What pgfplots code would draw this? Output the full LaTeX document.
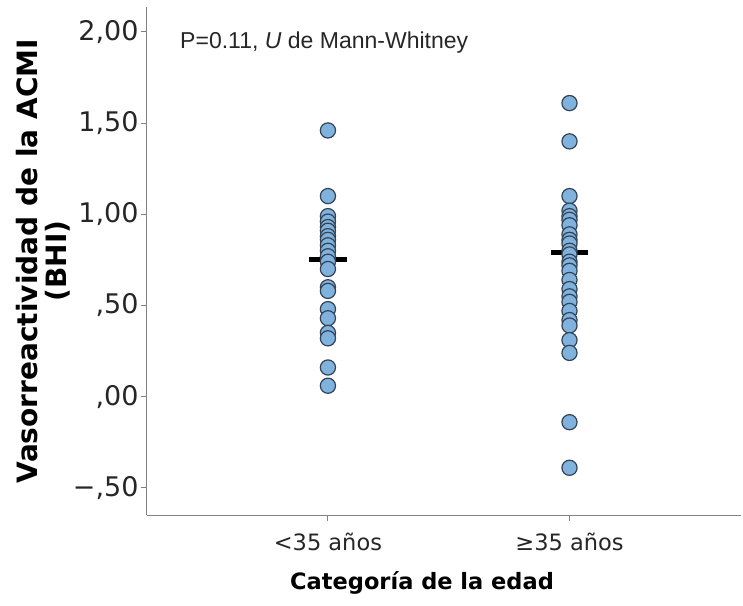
\documentclass[border=0pt]{standalone}
\usepackage{pgfplots}
\pgfplotsset{compat=1.18}
\usepackage{fontspec}
\setmainfont{DejaVu Sans}
\newfontfamily\annfont{Liberation Sans}

\definecolor{dotfill}{RGB}{128,178,222}
\definecolor{dotedge}{RGB}{52,66,84}
\definecolor{axisgray}{RGB}{130,130,130}

% BHI values by age group (0: <35 years, 1: >=35 years)
\pgfplotstableread{
x y
0 1.46
0 1.10
0 0.99
0 0.96
0 0.93
0 0.91
0 0.88
0 0.86
0 0.83
0 0.80
0 0.77
0 0.74
0 0.70
0 0.60
0 0.58
0 0.48
0 0.43
0 0.35
0 0.32
0 0.16
0 0.06
}\younger

\pgfplotstableread{
x y
1 1.61
1 1.40
1 1.10
1 1.02
1 0.99
1 0.97
1 0.94
1 0.89
1 0.86
1 0.84
1 0.80
1 0.78
1 0.74
1 0.72
1 0.69
1 0.64
1 0.59
1 0.55
1 0.52
1 0.47
1 0.42
1 0.39
1 0.31
1 0.24
1 -0.14
1 -0.39
}\older

\begin{document}
\begin{tikzpicture}
\begin{axis}[
  name=ax,
  scale only axis,
  width=594pt, height=508pt,
  xmin=-0.749, xmax=1.71,
  ymin=-0.649, ymax=2.137,
  axis x line*=bottom, axis y line*=left,
  axis line style={axisgray, line width=1pt, -},
  xtick={0,1},
  xticklabels={<35 años, ≥35 años},
  ytick={-0.5,0,0.5,1,1.5,2},
  yticklabels={{−,50},{,00},{,50},{1,00},{1,50},{2,00}},
  tick align=outside,
  major tick length=6pt,
  tick style={axisgray, line width=1pt},
  x tick label style={font=\fontsize{22.5}{26}\selectfont, text=black!85, yshift=-8pt},
  y tick label style={font=\fontsize{27}{30}\selectfont, text=black!85, xshift=1pt},
  xlabel={Categoría de la edad},
  xlabel style={font=\bfseries\fontsize{22.5}{27}\selectfont, at={(rel axis cs:0.463,0)}, anchor=center, yshift=-68pt},
  ylabel={Vasorreactividad de la ACMI\\(BHI)},
  ylabel style={font=\bfseries\fontsize{28}{29}\selectfont, align=center, yshift=-4pt},
  clip=false,
]
\addplot[only marks, mark=*, mark size=7.6pt,
  mark options={fill=dotfill, draw=dotedge, line width=1.2pt}]
  table[x=x, y=y] {\younger};
\addplot[only marks, mark=*, mark size=7.6pt,
  mark options={fill=dotfill, draw=dotedge, line width=1.2pt}]
  table[x=x, y=y] {\older};
% group means
\addplot[black, line width=5pt] coordinates {(-0.077,0.75) (0.077,0.75)};
\addplot[black, line width=5pt] coordinates {(0.923,0.79) (1.077,0.79)};
\node[anchor=west, font=\annfont\fontsize{23}{26}\selectfont, text=black!85]
  at (rel axis cs:0.050,0.930) {P=0.11, \textit{U} de Mann-Whitney};
\end{axis}
\path[use as bounding box] ([xshift=-147pt,yshift=-90pt]ax.south west)
  rectangle ([xshift=2pt,yshift=7pt]ax.north east);
\end{tikzpicture}
\end{document}
